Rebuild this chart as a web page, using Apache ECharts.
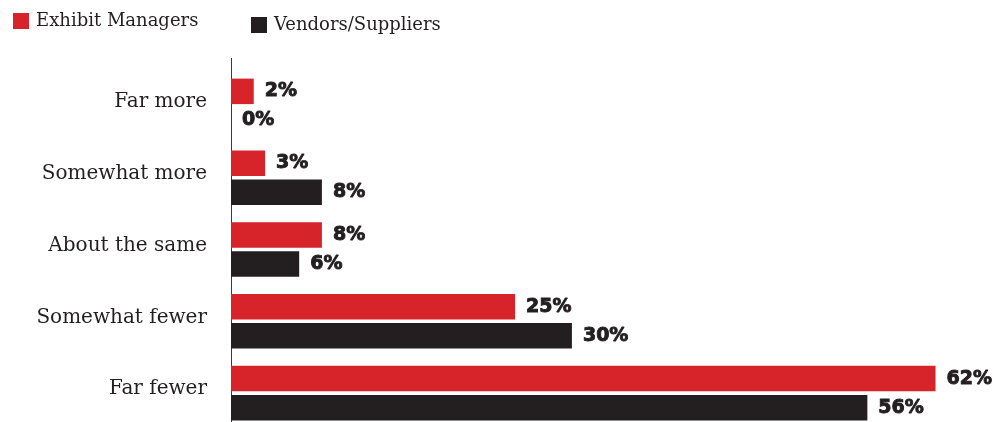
<!DOCTYPE html>
<html>
<head>
<meta charset="utf-8">
<script src="https://cdn.jsdelivr.net/npm/echarts@6/dist/echarts.min.js"></script>
<style>
  html, body { margin: 0; padding: 0; background: #ffffff; overflow: hidden; }
  /* the lowest band runs a few pixels past the bottom of the window */
  #chart { width: 993px; height: 429px; }
</style>
</head>
<body>
<div id="chart"></div>
<script>
// Survey responses by group
const categories = ['Far more', 'Somewhat more', 'About the same', 'Somewhat fewer', 'Far fewer'];
const exhibitManagers = [2, 3, 8, 25, 62];
const vendorsSuppliers = [0, 8, 6, 30, 56];
const seriesNames = ['Exhibit Managers', 'Vendors/Suppliers'];

const RED = '#d7232a';
const DARK = '#231f20';
const GRID_LEFT = 231;
const GRID_TOP = 70;

const valueLabel = {
  show: true,
  position: 'right',
  distance: 11,
  formatter: '{c}%',
  color: DARK,
  fontFamily: 'DejaVu Sans',
  fontWeight: 'bold',
  fontSize: 19,
  textBorderColor: DARK,
  textBorderWidth: 0.9
};

const legendText = {
  color: DARK,
  fontFamily: 'DejaVu Serif',
  fontSize: 18,
  padding: [0, 0, 0, 2]
};

const chart = echarts.init(document.getElementById('chart'), null, { renderer: 'canvas' });

chart.setOption({
  animation: false,
  backgroundColor: '#ffffff',
  legend: [
    {
      left: 8, top: 7,
      itemWidth: 16, itemHeight: 16,
      icon: 'rect',
      data: [seriesNames[0]],
      textStyle: legendText
    },
    {
      left: 246, top: 11,
      itemWidth: 16, itemHeight: 16,
      icon: 'rect',
      data: [seriesNames[1]],
      textStyle: legendText
    }
  ],
  grid: { left: GRID_LEFT, top: GRID_TOP, width: 750, bottom: 0, containLabel: false },
  xAxis: {
    type: 'value',
    min: 0,
    max: 66,
    show: false
  },
  yAxis: {
    type: 'category',
    data: categories,
    inverse: true,
    axisLine: { show: true, lineStyle: { color: '#3a3a3a', width: 1 } },
    axisTick: { show: false },
    splitLine: { show: false },
    axisLabel: {
      margin: 24,
      formatter: '{t|{value}}',
      rich: {
        t: {
          color: DARK,
          fontFamily: 'DejaVu Serif',
          fontSize: 20,
          padding: [0, 0, 8, 0]
        }
      }
    }
  },
  graphic: [
    {
      type: 'line',
      shape: { x1: GRID_LEFT + 0.5, y1: 58, x2: GRID_LEFT + 0.5, y2: GRID_TOP },
      style: { stroke: '#3a3a3a', lineWidth: 1 }
    }
  ],
  series: [
    {
      name: seriesNames[0],
      type: 'bar',
      data: exhibitManagers,
      barWidth: 25.5,
      barGap: '14%',
      itemStyle: { color: RED },
      label: valueLabel
    },
    {
      name: seriesNames[1],
      type: 'bar',
      data: vendorsSuppliers,
      barWidth: 25.5,
      barGap: '14%',
      itemStyle: { color: DARK },
      label: valueLabel
    }
  ]
});
</script>
</body>
</html>
